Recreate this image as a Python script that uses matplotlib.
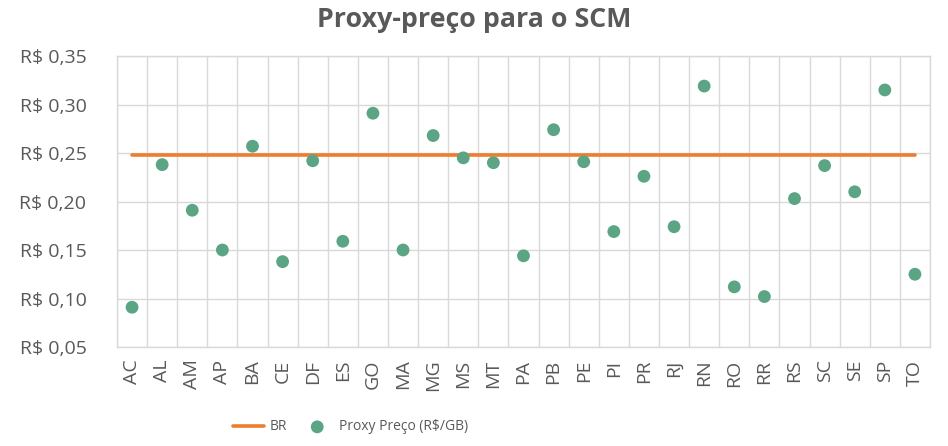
import matplotlib
matplotlib.use("Agg")
import matplotlib.pyplot as plt
import numpy as np

states = ["AC", "AL", "AM", "AP", "BA", "CE", "DF", "ES", "GO", "MA", "MG", "MS", "MT", "PA",
          "PB", "PE", "PI", "PR", "RJ", "RN", "RO", "RR", "RS", "SC", "SE", "SP", "TO"]
proxy = [0.091, 0.238, 0.191, 0.150, 0.257, 0.138, 0.242, 0.159, 0.291, 0.150, 0.268, 0.245,
         0.240, 0.144, 0.274, 0.241, 0.169, 0.226, 0.174, 0.319, 0.112, 0.102, 0.203, 0.237,
         0.210, 0.315, 0.125]
br_value = 0.248
yticks = [0.05, 0.10, 0.15, 0.20, 0.25, 0.30, 0.35]
ytick_labels = ["R$ 0,05", "R$ 0,10", "R$ 0,15", "R$ 0,20", "R$ 0,25", "R$ 0,30", "R$ 0,35"]

plt.rcParams['font.family'] = ['Open Sans', 'DejaVu Sans']
txt = '#595959'
grid = '#d9d9d9'

fig = plt.figure(figsize=(9.48, 4.46), dpi=100)
ax = fig.add_axes([117/948, 1-347/446, (930-117)/948, (347-56)/446])

x = np.arange(len(states))
ax.plot(x, [br_value]*len(states), color='#ED7D31', lw=2.6, solid_capstyle='round',
        label='BR', zorder=3)
ax.scatter(x, proxy, s=85, color='#5BA585', label='Proxy Preço (R$/GB)', zorder=4,
           edgecolors='none')

ax.set_xlim(-0.5, len(states)-0.5)
ax.set_ylim(0.05, 0.35)
ax.set_yticks(yticks)
ax.set_yticklabels(ytick_labels)
ax.set_xticks(x)
ax.set_xticklabels(states, rotation=90)
ax.set_xticks(np.arange(-0.5, len(states), 1), minor=True)
ax.grid(True, which='minor', axis='x', color=grid, lw=1)
ax.grid(True, which='major', axis='y', color=grid, lw=1)
ax.set_axisbelow(True)
for s in ax.spines.values():
    s.set_color(grid)
    s.set_linewidth(1)
ax.tick_params(axis='both', which='both', length=0, colors=txt, labelsize=14)
ax.tick_params(axis='y', pad=22)
ax.tick_params(axis='x', pad=9)

fig.text(0.5, 1-20/446, 'Proxy-preço para o SCM', ha='center', va='center',
         fontsize=19.3, fontweight='bold', color=txt)

leg = fig.legend(loc='center left', bbox_to_anchor=(220/948, 1-427/446), ncol=2, frameon=False,
                 fontsize=10, handlelength=2.3, handletextpad=0.4, columnspacing=1.0)
for t in leg.get_texts():
    t.set_color(txt)

fig.savefig('out.png', dpi=100)
